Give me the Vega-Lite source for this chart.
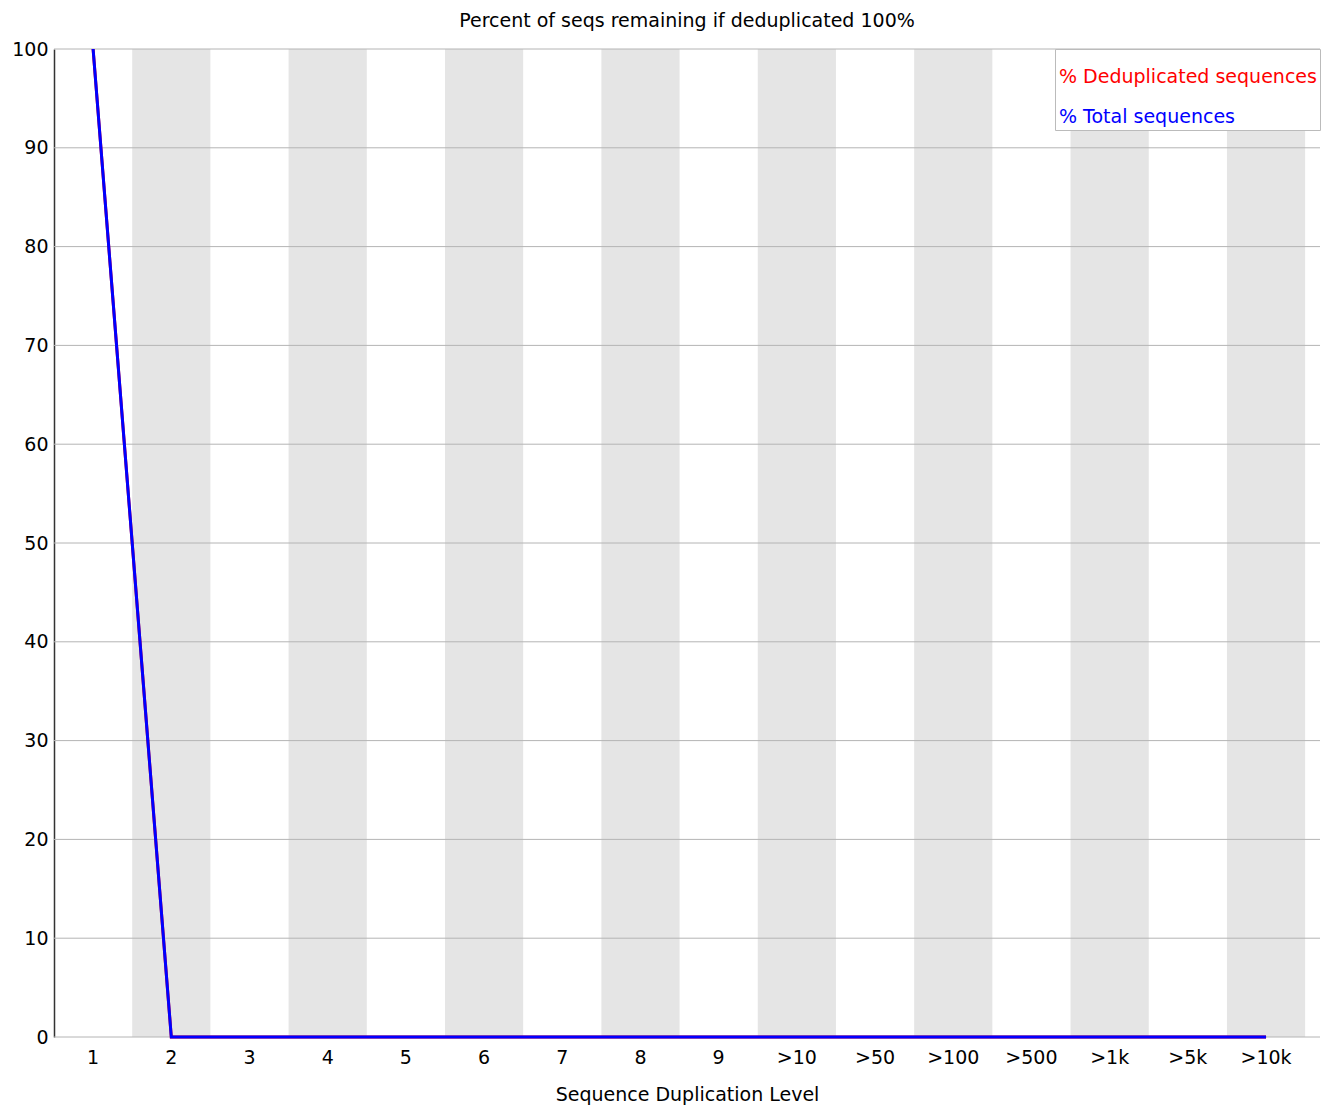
{
  "$schema": "https://vega.github.io/schema/vega-lite/v6.json",
  "width": 1266,
  "height": 988,
  "autosize": {"type": "none"},
  "padding": {"left": 54, "top": 49, "right": 6, "bottom": 72},
  "background": "white",
  "config": {"font": "DejaVu Sans", "view": {"stroke": null}},
  "title": {"text": "Percent of seqs remaining if deduplicated 100%", "fontSize": 19, "fontWeight": "normal", "color": "#000000", "anchor": "middle", "offset": 9},
  "datasets": {
    "levels": [
      {"level": "1", "shaded": false}, {"level": "2", "shaded": true}, {"level": "3", "shaded": false}, {"level": "4", "shaded": true},
      {"level": "5", "shaded": false}, {"level": "6", "shaded": true}, {"level": "7", "shaded": false}, {"level": "8", "shaded": true},
      {"level": "9", "shaded": false}, {"level": ">10", "shaded": true}, {"level": ">50", "shaded": false}, {"level": ">100", "shaded": true},
      {"level": ">500", "shaded": false}, {"level": ">1k", "shaded": true}, {"level": ">5k", "shaded": false}, {"level": ">10k", "shaded": true}
    ],
    "grid": [{"pct": 0}, {"pct": 10}, {"pct": 20}, {"pct": 30}, {"pct": 40}, {"pct": 50}, {"pct": 60}, {"pct": 70}, {"pct": 80}, {"pct": 90}, {"pct": 100}],
    "dup": [
      {"series": "% Deduplicated sequences", "level": "1", "pct": 100},
      {"series": "% Deduplicated sequences", "level": "2", "pct": 0},
      {"series": "% Deduplicated sequences", "level": "3", "pct": 0},
      {"series": "% Deduplicated sequences", "level": "4", "pct": 0},
      {"series": "% Deduplicated sequences", "level": "5", "pct": 0},
      {"series": "% Deduplicated sequences", "level": "6", "pct": 0},
      {"series": "% Deduplicated sequences", "level": "7", "pct": 0},
      {"series": "% Deduplicated sequences", "level": "8", "pct": 0},
      {"series": "% Deduplicated sequences", "level": "9", "pct": 0},
      {"series": "% Deduplicated sequences", "level": ">10", "pct": 0},
      {"series": "% Deduplicated sequences", "level": ">50", "pct": 0},
      {"series": "% Deduplicated sequences", "level": ">100", "pct": 0},
      {"series": "% Deduplicated sequences", "level": ">500", "pct": 0},
      {"series": "% Deduplicated sequences", "level": ">1k", "pct": 0},
      {"series": "% Deduplicated sequences", "level": ">5k", "pct": 0},
      {"series": "% Deduplicated sequences", "level": ">10k", "pct": 0},
      {"series": "% Total sequences", "level": "1", "pct": 100},
      {"series": "% Total sequences", "level": "2", "pct": 0},
      {"series": "% Total sequences", "level": "3", "pct": 0},
      {"series": "% Total sequences", "level": "4", "pct": 0},
      {"series": "% Total sequences", "level": "5", "pct": 0},
      {"series": "% Total sequences", "level": "6", "pct": 0},
      {"series": "% Total sequences", "level": "7", "pct": 0},
      {"series": "% Total sequences", "level": "8", "pct": 0},
      {"series": "% Total sequences", "level": "9", "pct": 0},
      {"series": "% Total sequences", "level": ">10", "pct": 0},
      {"series": "% Total sequences", "level": ">50", "pct": 0},
      {"series": "% Total sequences", "level": ">100", "pct": 0},
      {"series": "% Total sequences", "level": ">500", "pct": 0},
      {"series": "% Total sequences", "level": ">1k", "pct": 0},
      {"series": "% Total sequences", "level": ">5k", "pct": 0},
      {"series": "% Total sequences", "level": ">10k", "pct": 0}
    ]
  },
  "resolve": {"scale": {"x": "shared", "y": "shared"}},
  "layer": [
    {
      "data": {"name": "levels"},
      "transform": [{"filter": "datum.shaded"}],
      "mark": {"type": "rect", "color": "#e5e5e5"},
      "encoding": {
        "x": {"field": "level", "type": "ordinal", "sort": null,
          "scale": {"domain": ["1", "2", "3", "4", "5", "6", "7", "8", "9", ">10", ">50", ">100", ">500", ">1k", ">5k", ">10k"], "paddingInner": 0, "paddingOuter": 0.095, "align": 0},
          "axis": {"title": "Sequence Duplication Level", "titleFontSize": 19, "titleFontWeight": "normal", "titleColor": "#000000",
            "labelFontSize": 19, "labelColor": "#000000", "labelAngle": 0, "ticks": false, "domain": false, "grid": false,
            "labelPadding": 11, "titlePadding": 18}}
      }
    },
    {
      "data": {"name": "grid"},
      "mark": {"type": "rule", "color": "#b4b4b4", "strokeWidth": 1},
      "encoding": {
        "y": {"field": "pct", "type": "quantitative",
          "scale": {"domain": [0, 100], "nice": false, "zero": true},
          "axis": {"title": null, "values": [0, 10, 20, 30, 40, 50, 60, 70, 80, 90, 100], "grid": false, "ticks": false,
            "domain": true, "domainColor": "#333333", "domainWidth": 1.5, "labelFontSize": 19, "labelColor": "#000000", "labelPadding": 6}}
      }
    },
    {
      "data": {"name": "dup"},
      "mark": {"type": "line", "strokeWidth": 3},
      "encoding": {
        "x": {"field": "level", "type": "ordinal", "sort": null},
        "y": {"field": "pct", "type": "quantitative"},
        "color": {"field": "series", "type": "nominal",
          "scale": {"domain": ["% Deduplicated sequences", "% Total sequences"], "range": ["#ff0000", "#0000ff"]},
          "legend": {"orient": "top-right", "offset": 0, "title": null, "labelFontSize": 19, "labelLimit": 400,
            "symbolSize": 961, "symbolOpacity": 0, "symbolStrokeWidth": 0, "symbolType": "square",
            "labelOffset": -30, "padding": 3, "rowPadding": 5, "strokeColor": "#bbbbbb", "fillColor": "white",
            "labelBaseline": "top",
            "encode": {"labels": {"update": {"fill": {"scale": "color", "field": "value"}}}}}}
      }
    }
  ]
}
